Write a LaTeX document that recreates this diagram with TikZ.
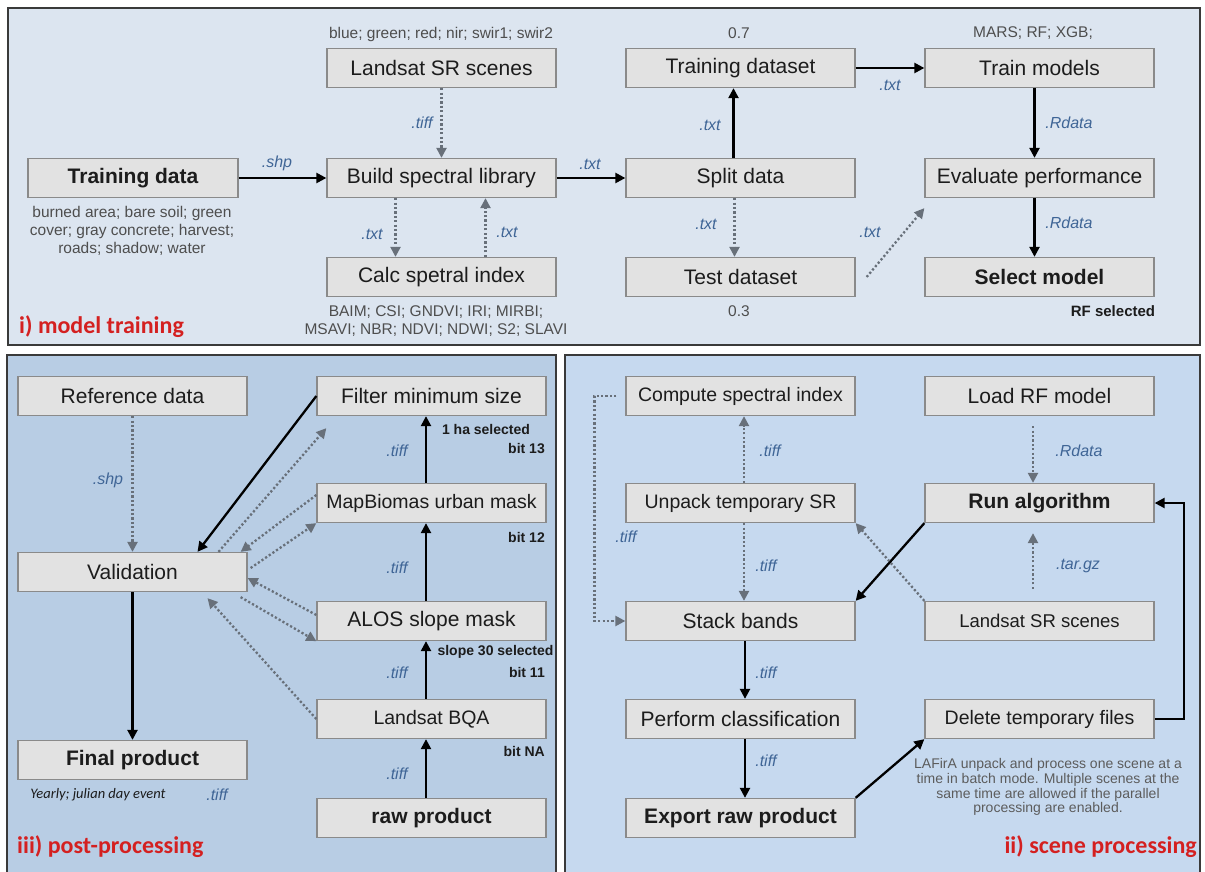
\documentclass[tikz,border=0pt]{standalone}
\usepackage{fontspec}
\setmainfont{Liberation Sans}
\newfontfamily\carlito{Carlito}
\usetikzlibrary{arrows.meta}
\definecolor{topbg}{HTML}{DCE5F0}
\definecolor{blbg}{HTML}{B8CDE4}
\definecolor{brbg}{HTML}{C6D9EF}
\definecolor{panelline}{HTML}{3A3A3A}
\definecolor{boxfill}{HTML}{E2E2E2}
\definecolor{boxline}{HTML}{8A8A8A}
\definecolor{boxtext}{HTML}{1C1C1C}
\definecolor{lblblue}{HTML}{3F6596}
\definecolor{notegray}{HTML}{4E4E4E}
\definecolor{lightnote}{HTML}{5C5C5C}
\definecolor{dotgray}{HTML}{68707A}
\definecolor{titlered}{HTML}{D42020}
\newcommand{\fs}[1]{\fontsize{#1}{#1}\selectfont}
\begin{document}
\begin{tikzpicture}[x=1pt,y=-1pt,
  panel/.style={draw=panelline, line width=2pt},
  box/.style={draw=boxline, fill=boxfill, line width=1.3pt, minimum width=229pt, minimum height=39pt, inner sep=0pt, text=boxtext, font=\fs{21}},
  bbox/.style={box, font=\fs{21}\bfseries},
  lbl/.style={text=lblblue, font=\fs{16}\itshape, inner sep=0pt},
  note/.style={text=notegray, font=\fs{15.5}, align=center, inner sep=0pt},
  bnote/.style={text=boxtext, font=\fs{14}\bfseries, inner sep=0pt},
  ttl/.style={text=titlered, font=\carlito\fs{24}\bfseries, inner sep=0pt},
  sol/.style={draw=black, line width=2.3pt, -{Triangle[length=10pt,width=10pt]}},
  dot/.style={draw=dotgray, line width=2.3pt, dash pattern=on 2.2pt off 2.2pt, -{Triangle[length=10pt,width=10pt]}},
]
\useasboundingbox (0,0) rectangle (1205,872);
\fill[white] (0,0) rectangle (1205,872);
% panels
\draw[panel, fill=topbg] (8,8) rectangle (1200,345);
\draw[panel, fill=blbg] (7,355) rectangle (556,876);
\draw[panel, fill=brbg] (565,355) rectangle (1200,876);

% ---------------- i) model training ----------------
\node[bbox, minimum width=210pt] (trd) at (133,178) {Training data};
\node[box] (lss) at (441.5,68) {Landsat SR scenes};
\node[box] (bsl) at (441.5,178) {Build spectral library};
\node[box] (calc) at (441.5,277) {Calc spetral index};
\node[box] (trds) at (740.5,68) {Training dataset};
\node[box] (split) at (740.5,178) {Split data};
\node[box] (tst) at (740.5,277) {Test dataset};
\node[box] (trm) at (1039.5,68) {Train models};
\node[box] (eval) at (1039.5,178) {Evaluate performance};
\node[bbox] (sel) at (1039.5,277) {Select model};

\node[note] (n1) at (441,34) {blue; green; red; nir; swir1; swir2};
\node[note] (n2) at (132,231) {burned area; bare soil; green\\[2.5pt]cover; gray concrete; harvest;\\[2.5pt]roads; shadow; water};
\node[note] (n3) at (436,321) {BAIM; CSI; GNDVI; IRI; MIRBI;\\[2pt]MSAVI; NBR; NDVI; NDWI; S2; SLAVI};
\node[note] (n4) at (739,33) {0.7};
\node[note] (n5) at (739,311) {0.3};
\node[note] (n6) at (1033,33) {MARS; RF; XGB;};
\node[bnote, font=\fs{15}\bfseries] (n7) at (1113,311) {RF selected};
\node[ttl, anchor=west] (t1) at (19,327) {i) model training};

\draw[sol] (trd) -- (bsl);
\draw[dot] (lss) -- (bsl);
\draw[dot] ([xshift=-46pt]bsl.south) -- ([xshift=-46pt]calc.north);
\draw[dot] ([xshift=44pt]calc.north) -- ([xshift=44pt]bsl.south);
\draw[sol] (bsl) -- (split);
\draw[sol] ([xshift=-7pt]split.north) -- ([xshift=-7pt]trds.south);
\draw[dot] ([xshift=-6pt]split.south) -- ([xshift=-6pt]tst.north);
\draw[sol] (trds) -- (trm);
\draw[sol] ([xshift=-5pt]trm.south) -- ([xshift=-5pt]eval.north);
\draw[sol] ([xshift=-5pt]eval.south) -- ([xshift=-5pt]sel.north);
\draw[dot] ([xshift=11pt]tst.east) -- ([yshift=-10pt]eval.south west);

\node[lbl] (l1) at (277,163) {.shp};
\node[lbl] (l2) at (422,123) {.tiff};
\node[lbl] (l3) at (372,234) {.txt};
\node[lbl] (l4) at (507,232) {.txt};
\node[lbl] (l5) at (590,164) {.txt};
\node[lbl] (l6) at (710,125) {.txt};
\node[lbl] (l7) at (706,224) {.txt};
\node[lbl] (l8) at (890,85) {.txt};
\node[lbl] (l9) at (1069,123) {.Rdata};
\node[lbl] (l10) at (1069,223) {.Rdata};
\node[lbl] (l11) at (870,232) {.txt};

% ---------------- iii) post-processing ----------------
\node[box] (ref) at (132.5,396) {Reference data};
\node[box] (val) at (132.5,572) {Validation};
\node[bbox] (fin) at (132.5,760) {Final product};
\node[box] (flt) at (431.5,396) {Filter minimum size};
\node[box, font=\fs{19.5}] (mbu) at (431.5,503) {MapBiomas urban mask};
\node[box] (alos) at (431.5,621) {ALOS slope mask};
\node[box, font=\fs{19.5}] (bqa) at (431.5,719) {Landsat BQA};
\node[bbox] (raw) at (431.5,818) {raw product};

\draw[dot] (ref) -- (val);
\draw[sol] (val) -- (fin);
\draw[sol] ([xshift=-5.5pt]raw.north) -- ([xshift=-5.5pt]bqa.south);
\draw[sol] ([xshift=-5.5pt]bqa.north) -- ([xshift=-5.5pt]alos.south);
\draw[sol] ([xshift=-5.5pt]alos.north) -- ([xshift=-5.5pt]mbu.south);
\draw[sol] ([xshift=-5.5pt]mbu.north) -- ([xshift=-5.5pt]flt.south);
\draw[sol] (flt.west) -- ([xshift=65pt]val.north);
\draw[dot] ([xshift=86pt]val.north) -- ([shift={(10pt,-12pt)}]flt.south west);
\draw[dot] ([yshift=8pt]mbu.west) -- ([xshift=-7pt]val.north east);
\draw[dot] ([shift={(3pt,4pt)}]val.east) -- (mbu.south west);
\draw[dot] ([yshift=6pt]alos.west) -- ([yshift=-6pt]val.east);
\draw[dot] ([shift={(-7pt,-5pt)}]val.south east) -- (alos.south west);
\draw[dot] (bqa.west) -- ([shift={(75pt,-6pt)}]val.south);

\node[lbl] (p1) at (108,480) {.shp};
\node[lbl] (p2) at (397,451) {.tiff};
\node[lbl] (p3) at (397,568) {.tiff};
\node[lbl] (p4) at (397,673) {.tiff};
\node[lbl] (p5) at (397,774) {.tiff};
\node[lbl] (p6) at (217,795) {.tiff};
\node[text=boxtext, font=\carlito\fs{14.5}\itshape, inner sep=0pt] (p7) at (98,795) {Yearly; julian day event};
\node[bnote] (b1) at (486,429) {1 ha selected};
\node[bnote, anchor=east] (b2) at (545,449) {bit 13};
\node[bnote, anchor=east] (b3) at (545,537) {bit 12};
\node[bnote] (b4) at (495.5,652) {slope 30 selected};
\node[bnote, anchor=east] (b5) at (545,672) {bit 11};
\node[bnote, anchor=east] (b6) at (545,751) {bit NA};
\node[ttl, anchor=west] (t3) at (17,847) {iii) post-processing};

% ---------------- ii) scene processing ----------------
\node[box, font=\fs{19.5}] (cmp) at (740.5,396) {Compute spectral index};
\node[box, font=\fs{19.5}] (unp) at (740.5,503) {Unpack temporary SR};
\node[box] (stk) at (740.5,621) {Stack bands};
\node[box] (prf) at (740.5,719) {Perform classification};
\node[bbox] (exr) at (740.5,818) {Export raw product};
\node[box] (lrf) at (1039.5,396) {Load RF model};
\node[bbox] (run) at (1039.5,503) {Run algorithm};
\node[box, font=\fs{18.5}] (ls2) at (1039.5,621) {Landsat SR scenes};
\node[box, font=\fs{19.5}] (del) at (1039.5,719) {Delete temporary files};

\draw[dot] ([xshift=3.5pt]unp.north) -- ([xshift=3.5pt]cmp.south);
\draw[dot] ([xshift=3.5pt]unp.south) -- ([xshift=3.5pt]stk.north);
\draw[dot] ([xshift=-9pt]cmp.west) -- ([xshift=-31pt]cmp.west) |- (stk.west);
\draw[sol] ([xshift=4.5pt]stk.south) -- ([xshift=4.5pt]prf.north);
\draw[sol] ([xshift=4.5pt]prf.south) -- ([xshift=4.5pt]exr.north);
\draw[dot, shorten <=10pt] ([xshift=-6.5pt]lrf.south) -- ([xshift=-6.5pt]run.north);
\draw[dot, shorten <=12pt, shorten >=10pt] ([xshift=-6.5pt]ls2.north) -- ([xshift=-6.5pt]run.south);
\draw[sol] (run.south west) -- (stk.north east);
\draw[dot] (ls2.north west) -- (unp.south east);
\draw[sol] (exr.north east) -- (del.south west);
\draw[sol] (del.east) -- ++(29pt,0) |- (run.east);

\node[lbl] (s1) at (770,451) {.tiff};
\node[lbl] (s2) at (626,537) {.tiff};
\node[lbl] (s3) at (766,566) {.tiff};
\node[lbl] (s4) at (766,673) {.tiff};
\node[lbl] (s5) at (766,761) {.tiff};
\node[lbl] (s6) at (1079,451) {.Rdata};
\node[lbl] (s7) at (1078,566) {.tar.gz};
\node[note, font=\fs{14}, text=lightnote] (s8) at (1048,787) {LAFirA unpack and process one scene at a\\[0.8pt]time in batch mode. Multiple scenes at the\\[0.8pt]same time are allowed if the parallel\\[0.8pt]processing are enabled.};
\node[ttl, anchor=east] (t2) at (1197,847) {ii) scene processing};
\end{tikzpicture}
\end{document}
